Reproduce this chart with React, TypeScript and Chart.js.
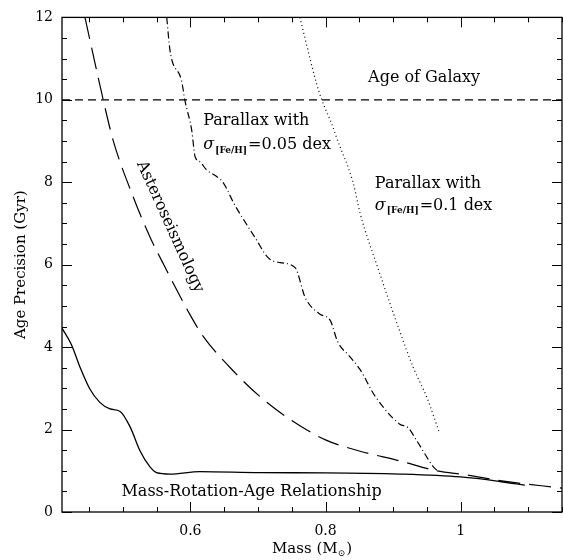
import React, { useEffect, useRef } from "react";
import { Chart, registerables } from "chart.js";

Chart.register(...registerables);

// ---------- axes ----------
const X_MIN = 0.41;
const X_MAX = 1.15;
const Y_MIN = 0;
const Y_MAX = 12;
const xMajorTicks = [0.6, 0.8, 1.0];
const xMinorStep = 0.05;
const yMajorTicks = [0, 2, 4, 6, 8, 10, 12];
const yMinorStep = 0.5;

// ---------- data ----------
// Mass-Rotation-Age relationship (solid)
const mraMass = [0.41, 0.424, 0.437, 0.451, 0.466, 0.481, 0.496, 0.511, 0.525, 0.54, 0.55, 0.57, 0.614, 0.703, 0.8, 0.91, 1.0, 1.058, 1.095];
const mraAge = [4.46, 4.06, 3.5, 2.99, 2.66, 2.5, 2.44, 2.06, 1.5, 1.1, 0.955, 0.92, 0.98, 0.955, 0.95, 0.92, 0.85, 0.74, 0.65];

// Asteroseismology (long dashes)
const asteroMass = [0.444, 0.471, 0.486, 0.516, 0.54, 0.565, 0.582, 0.599, 0.619, 0.659, 0.703, 0.75, 0.8, 0.85, 0.91, 0.964, 1.009, 1.058, 1.15];
const asteroAge = [12, 10, 9.0, 7.62, 6.68, 5.86, 5.32, 4.8, 4.26, 3.5, 2.8, 2.22, 1.75, 1.48, 1.24, 1.0, 0.9, 0.76, 0.58];

// Parallax with sigma[Fe/H] = 0.05 dex (dash-dot)
const par005Mass = [0.565, 0.57, 0.587, 0.592, 0.602, 0.607, 0.614, 0.624, 0.639, 0.649, 0.664, 0.671, 0.696, 0.715, 0.733, 0.755, 0.77, 0.792, 0.807, 0.818, 0.836, 0.851, 0.873, 0.91, 0.922, 0.935, 0.96, 0.965];
const par005Age = [12, 11.18, 10.46, 9.98, 9.26, 8.62, 8.5, 8.3, 8.14, 7.98, 7.5, 7.3, 6.65, 6.17, 6.05, 5.93, 5.2, 4.8, 4.65, 4.13, 3.77, 3.46, 2.82, 2.13, 2.05, 1.73, 1.09, 1.01];

// Parallax with sigma[Fe/H] = 0.1 dex (dotted)
const par01Mass = [0.762, 0.787, 0.794, 0.811, 0.816, 0.841, 0.851, 0.88, 0.91, 0.93, 0.95, 0.969];
const par01Age = [12, 10.38, 10.02, 9.34, 9.1, 7.98, 7.26, 5.8, 4.38, 3.5, 2.78, 1.9];

// Age of Galaxy (horizontal dashed)
const galaxyMass = [X_MIN, X_MAX];
const galaxyAge = [10, 10];

// ---------- annotation text positions (data coords) ----------
const galaxyLabel = { text: "Age of Galaxy", x: 0.863, y: 10.54 };
const par005Label = { line1: "Parallax with", sub: "[Fe/H]", rest: "=0.05 dex", x: 0.619, y1: 9.48, y2: 8.9 };
const par01Label = { line1: "Parallax with", sub: "[Fe/H]", rest: "=0.1 dex", x: 0.873, y1: 7.97, y2: 7.44 };
const mraLabel = { text: "Mass-Rotation-Age Relationship", x: 0.498, y: 0.48 };
const asteroLabel = { text: "Asteroseismology", x: 0.57, y: 6.92, angleDeg: 65.6 };

const SERIF = '"DejaVu Serif", serif';

function zip(xs: number[], ys: number[]) {
  return xs.map((x, i) => ({ x, y: ys[i] }));
}

const decorPlugin = {
  id: "decor",
  afterDatasetsDraw(chart: any) {
    const { ctx, chartArea: a, scales } = chart;
    const xs = scales.x;
    const ys = scales.y;
    ctx.save();
    ctx.strokeStyle = "#000";
    ctx.fillStyle = "#000";

    // frame
    ctx.lineWidth = 1.3;
    ctx.strokeRect(a.left, a.top, a.right - a.left, a.bottom - a.top);

    // ticks (inward, on all four sides)
    ctx.lineWidth = 1;
    ctx.beginPath();
    const nX = Math.round((X_MAX - X_MIN) / xMinorStep) + 2;
    const x0 = Math.ceil(X_MIN / xMinorStep - 1e-9) * xMinorStep;
    for (let i = 0; i < nX; i++) {
      const v = Math.round((x0 + i * xMinorStep) * 1000) / 1000;
      if (v > X_MAX + 1e-9) break;
      const major = xMajorTicks.some((m) => Math.abs(m - v) < 1e-6);
      const len = major ? 10 : 5;
      const px = Math.round(xs.getPixelForValue(v)) + 0.5;
      ctx.moveTo(px, a.bottom);
      ctx.lineTo(px, a.bottom - len);
      ctx.moveTo(px, a.top);
      ctx.lineTo(px, a.top + len);
    }
    const nY = Math.round((Y_MAX - Y_MIN) / yMinorStep);
    for (let i = 0; i <= nY; i++) {
      const v = Y_MIN + i * yMinorStep;
      const major = yMajorTicks.some((m) => Math.abs(m - v) < 1e-6);
      const len = major ? 10 : 5;
      const py = Math.round(ys.getPixelForValue(v)) + 0.5;
      ctx.moveTo(a.left, py);
      ctx.lineTo(a.left + len, py);
      ctx.moveTo(a.right, py);
      ctx.lineTo(a.right - len, py);
    }
    ctx.stroke();

    // annotations
    ctx.textBaseline = "middle";
    ctx.textAlign = "left";
    ctx.font = `16px ${SERIF}`;
    ctx.fillText(galaxyLabel.text, xs.getPixelForValue(galaxyLabel.x), ys.getPixelForValue(galaxyLabel.y));
    ctx.fillText(mraLabel.text, xs.getPixelForValue(mraLabel.x), ys.getPixelForValue(mraLabel.y));

    const drawParallax = (lab: any) => {
      const px = xs.getPixelForValue(lab.x);
      ctx.font = `16px ${SERIF}`;
      ctx.fillText(lab.line1, px, ys.getPixelForValue(lab.y1));
      const py = ys.getPixelForValue(lab.y2);
      ctx.font = `italic 16px ${SERIF}`;
      ctx.fillText("σ", px, py);
      let cx = px + ctx.measureText("σ").width + 1;
      ctx.font = `bold 9px ${SERIF}`;
      ctx.fillText(lab.sub, cx, py + 5);
      cx += ctx.measureText(lab.sub).width + 1;
      ctx.font = `16px ${SERIF}`;
      ctx.fillText(lab.rest, cx, py);
    };
    drawParallax(par005Label);
    drawParallax(par01Label);

    // rotated asteroseismology label
    ctx.save();
    ctx.translate(xs.getPixelForValue(asteroLabel.x), ys.getPixelForValue(asteroLabel.y));
    ctx.rotate((asteroLabel.angleDeg * Math.PI) / 180);
    ctx.textAlign = "center";
    ctx.font = `16px ${SERIF}`;
    ctx.fillText(asteroLabel.text, 0, 0);
    ctx.restore();

    // axis titles
    const cxTitle = (a.left + a.right) / 2;
    const yTitle = 549;
    const t1 = "Mass (M";
    const sub = "⊙";
    const t2 = ")";
    ctx.font = `15px ${SERIF}`;
    const w1 = ctx.measureText(t1).width;
    const w3 = ctx.measureText(t2).width;
    ctx.font = `9px ${SERIF}`;
    const w2 = ctx.measureText(sub).width;
    const total = w1 + w2 + w3 + 1;
    let sx = cxTitle - total / 2;
    ctx.font = `15px ${SERIF}`;
    ctx.fillText(t1, sx, yTitle);
    sx += w1;
    ctx.font = `9px ${SERIF}`;
    ctx.fillText(sub, sx, yTitle + 5);
    sx += w2 + 1;
    ctx.font = `15px ${SERIF}`;
    ctx.fillText(t2, sx, yTitle);

    ctx.save();
    ctx.translate(21, (a.top + a.bottom) / 2);
    ctx.rotate(-Math.PI / 2);
    ctx.textAlign = "center";
    ctx.font = `15px ${SERIF}`;
    ctx.fillText("Age Precision (Gyr)", 0, 0);
    ctx.restore();

    ctx.restore();
  },
};

export default function App() {
  const ref = useRef<HTMLCanvasElement | null>(null);

  useEffect(() => {
    if (!ref.current) return;
    const line = (data: any, dash: number[], width = 1.2) => ({
      data,
      showLine: true,
      borderColor: "#000",
      backgroundColor: "#000",
      borderWidth: width,
      borderDash: dash,
      pointRadius: 0,
      cubicInterpolationMode: "monotone",
      fill: false,
    });
    const chart = new Chart(ref.current, {
      type: "scatter",
      data: {
        datasets: [
          { label: "Mass-Rotation-Age", ...line(zip(mraMass, mraAge), [], 1.3) },
          { label: "Asteroseismology", ...line(zip(asteroMass, asteroAge), [22, 9]) },
          { label: "Parallax 0.05", ...line(zip(par005Mass, par005Age), [7, 3, 1, 3]) },
          { label: "Parallax 0.1", ...line(zip(par01Mass, par01Age), [1, 3]) },
          { label: "Age of Galaxy", ...line(zip(galaxyMass, galaxyAge), [8, 5]) },
        ] as any,
      },
      options: {
        animation: false,
        responsive: false,
        devicePixelRatio: 1,
        layout: { padding: { top: 12, right: 1, left: 0, bottom: 0 } },
        plugins: { legend: { display: false }, tooltip: { enabled: false } },
        scales: {
          x: {
            type: "linear",
            min: X_MIN,
            max: X_MAX,
            grid: { display: false, drawTicks: false },
            border: { display: false },
            afterBuildTicks: (s: any) => {
              s.ticks = xMajorTicks.map((v) => ({ value: v }));
            },
            afterFit: (s: any) => {
              s.height = 48;
            },
            ticks: {
              autoSkip: false,
              maxRotation: 0,
              padding: 11,
              color: "#000",
              font: { family: SERIF, size: 14 },
              callback: (v: any) => String(Math.round(Number(v) * 10) / 10),
            },
          },
          y: {
            type: "linear",
            min: Y_MIN,
            max: Y_MAX,
            grid: { display: false, drawTicks: false },
            border: { display: false },
            afterBuildTicks: (s: any) => {
              s.ticks = yMajorTicks.map((v) => ({ value: v }));
            },
            afterFit: (s: any) => {
              s.width = 62;
            },
            ticks: {
              autoSkip: false,
              padding: 9,
              color: "#000",
              font: { family: SERIF, size: 14 },
              callback: (v: any) => String(v),
            },
          },
        },
      } as any,
      plugins: [decorPlugin],
    });
    return () => chart.destroy();
  }, []);

  return (
    <div style={{ position: "absolute", left: 0, top: 0, width: 563, height: 560, background: "#fff" }}>
      <canvas ref={ref} width={563} height={560} style={{ width: 563, height: 560, display: "block" }} />
    </div>
  );
}
